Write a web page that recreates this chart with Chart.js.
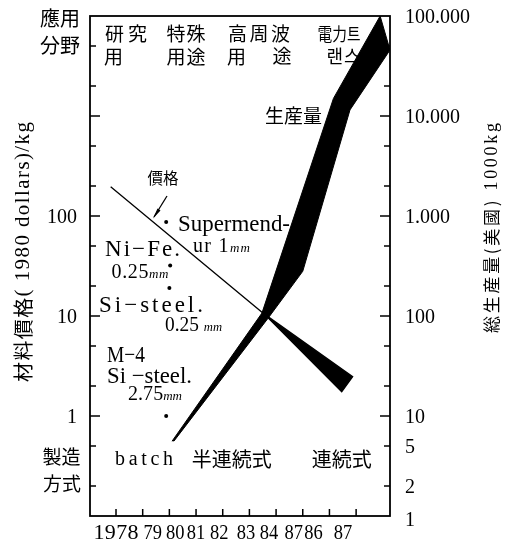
<!DOCTYPE html>
<html>
<head>
<meta charset="utf-8">
<script src="https://cdn.jsdelivr.net/npm/chart.js@4/dist/chart.umd.min.js"></script>
<style>
  html, body { margin: 0; padding: 0; background: #fff; }
  canvas { display: block; }
</style>
</head>
<body>
<canvas id="chart" width="517" height="544"></canvas>
<script>
// Year axis: positions 0..9 carry these labels
const yearLabels = ['1978', '79', '80', '81', '82', '83', '84', '87', '86', '87'];

// Material price, 1980 dollars per kg (left axis) — upper and lower edge of the price band
const priceTopX    = [-0.2, 5.55, 8.87];
const priceTopY    = [196, 10.5, 2.47];
const priceBottomX = [-0.2, 5.55, 8.46];
const priceBottomY = [196, 10.5, 1.75];

// Total production in the US, 1000 kg (right axis) — left and right edge of the band
const prodTopX    = [2.10, 5.47, 8.15, 9.90];
const prodTopY    = [5.6, 107, 15000, 100000];
const prodBottomX = [2.17, 5.70, 7.00, 8.77, 10.27];
const prodBottomY = [5.6, 95, 280, 11500, 45700];

// Individual materials (price per kg)
const materialNames = ['Supermendur 1mm', 'Ni-Fe 0.25mm', 'Si-steel 0.25mm', 'M-4 Si-steel 2.75mm'];
const materialX     = [1.88, 2.03, 2.0, 1.88];
const materialPrice = [87, 32, 19, 1.0];

// Axis tick values
const priceTicks    = [0.2, 0.5, 1, 2, 5, 10, 20, 50, 100, 200, 500, 1000, 2000, 5000];
const priceLabelled = [1, 10, 100];
const prodTicks     = [2, 5, 10, 20, 50, 100, 200, 500, 1000, 2000, 5000, 10000, 20000, 50000];
const prodLabelled  = [1, 2, 5, 10, 100, 1000, 10000, 100000];

// small nudges of the year labels as they are set in a row
const yearLabelShift = [0, 10, 6, 0, -3.5, -3.5, -7, -9, -16, -13];

const SERIF = '"Liberation Serif", "DejaVu Serif", serif';
const CJK = '"Noto Sans CJK JP", "Noto Sans CJK KR", sans-serif';

const toPts = (xs, ys) => xs.map((x, i) => ({ x, y: ys[i] }));
const outline = (tx, ty, bx, by) => toPts(tx, ty).concat(toPts(bx, by).reverse());

// draw runs of text centred on (cx, cy), spaced or squeezed to a given width
function drawRuns(ctx, runs, cx, cy, width, opts = {}) {
  ctx.save();
  ctx.fillStyle = '#000';
  ctx.textAlign = 'left';
  ctx.textBaseline = opts.base || 'middle';
  const glyphs = [];
  runs.forEach(([t, fam, size, italic]) => {
    const font = (italic ? 'italic ' : '') + size + 'px ' + fam;
    ctx.font = font;
    Array.from(t).forEach(ch => glyphs.push({ ch, font, w: ctx.measureText(ch).width }));
  });
  const natural = glyphs.reduce((a, g) => a + g.w, 0);
  const target = width || natural;
  let spacing = 0, sx = 1;
  if (target > natural && glyphs.length > 1) spacing = (target - natural) / (glyphs.length - 1);
  else if (target < natural) sx = target / natural;
  ctx.translate(cx, cy);
  if (opts.rot) ctx.rotate(opts.rot);
  ctx.scale(sx, 1);
  let x = -(natural + spacing * (glyphs.length - 1)) / 2;
  glyphs.forEach(g => {
    ctx.font = g.font;
    ctx.fillText(g.ch, x, 0);
    x += g.w + spacing;
  });
  ctx.restore();
}

// free annotations of the figure
const notes = [
  { r: [['應用', CJK, 20]], x: 60, y: 18, w: 40 },
  { r: [['分野', CJK, 20]], x: 60, y: 45, w: 40 },
  { r: [['研究', CJK, 19]], x: 126, y: 34, w: 42 },
  { r: [['用', CJK, 19]], x: 113.5, y: 56.5 },
  { r: [['特殊', CJK, 19]], x: 186, y: 34, w: 39 },
  { r: [['用途', CJK, 19]], x: 186, y: 56.5, w: 39 },
  { r: [['高周波', CJK, 19]], x: 259, y: 34, w: 62 },
  { r: [['用', CJK, 19]], x: 236.5, y: 56.5 },
  { r: [['途', CJK, 19]], x: 282, y: 56 },
  { r: [['電力트', CJK, 18]], x: 339, y: 34, w: 43 },
  { r: [['랜스', CJK, 18]], x: 343.5, y: 56.5, w: 34 },
  { r: [['生産量', CJK, 19]], x: 293.5, y: 115.5, w: 57 },
  { r: [['價格', CJK, 16]], x: 163, y: 177.5, w: 31 },
  { r: [['Supermend-', SERIF, 23]], x: 234, y: 230.5, w: 112, base: 'alphabetic' },
  { r: [['ur 1', SERIF, 20], ['mm', SERIF, 13, 1]], x: 221.5, y: 252, w: 57, base: 'alphabetic' },
  { r: [['Ni\u2212Fe.', SERIF, 23]], x: 142.5, y: 255.5, w: 75, base: 'alphabetic' },
  { r: [['0.25', SERIF, 20], ['mm', SERIF, 13, 1]], x: 140, y: 278, w: 57, base: 'alphabetic' },
  { r: [['Si\u2212steel.', SERIF, 23]], x: 151, y: 311.5, w: 104, base: 'alphabetic' },
  { r: [['0.25 ', SERIF, 20], ['mm', SERIF, 13, 1]], x: 193.5, y: 331, w: 57, base: 'alphabetic' },
  { r: [['M\u22124', SERIF, 23]], x: 126, y: 361.5, w: 38, base: 'alphabetic' },
  { r: [['Si \u2212steel.', SERIF, 23]], x: 149.5, y: 382.5, w: 85, base: 'alphabetic' },
  { r: [['2.75', SERIF, 20], ['mm', SERIF, 13, 1]], x: 155, y: 400, w: 54, base: 'alphabetic' },
  { r: [['batch', SERIF, 20]], x: 144, y: 465, w: 58, base: 'alphabetic' },
  { r: [['製造', CJK, 19]], x: 61.5, y: 456.5, w: 38 },
  { r: [['方式', CJK, 19]], x: 62, y: 484, w: 38 },
  { r: [['半連続式', CJK, 20]], x: 231.7, y: 459, w: 80 },
  { r: [['連続式', CJK, 20]], x: 341.7, y: 459, w: 60 },
  { r: [['材料價格', CJK, 20], ['( 1980 dollars)/kg', SERIF, 21]], x: 23, y: 252, w: 260, rot: -Math.PI / 2 },
  { r: [['総生産量(美國)', CJK, 17], [' 1000kg', SERIF, 18]], x: 492, y: 228, w: 210, rot: -Math.PI / 2 }
];

const fmtProd = v => v >= 1000 ? v.toLocaleString('de-DE') : String(v);
const isDecade = v => Math.abs(Math.log10(v) - Math.round(Math.log10(v))) < 1e-6;

// frame, inward tick marks, tick labels and annotations
const figurePlugin = {
  id: 'figure',
  afterDatasetsDraw(chart) {
    const { ctx, chartArea: a, scales } = chart;
    const { x: xs, y: ys, y1: rs } = scales;
    ctx.save();
    ctx.strokeStyle = '#000';
    ctx.lineWidth = 1.8;
    ctx.strokeRect(a.left, a.top, a.right - a.left, a.bottom - a.top);

    ctx.lineWidth = 1.5;
    ctx.beginPath();
    ys.ticks.forEach(t => {
      const py = ys.getPixelForValue(t.value);
      const len = isDecade(t.value) && t.value >= 1 ? 10 : 6;
      ctx.moveTo(a.left, py); ctx.lineTo(a.left + len, py);
    });
    rs.ticks.forEach(t => {
      const py = rs.getPixelForValue(t.value);
      const len = isDecade(t.value) ? 10 : 6;
      ctx.moveTo(a.right, py); ctx.lineTo(a.right - len, py);
    });
    xs.ticks.forEach(t => {
      const px = xs.getPixelForValue(t.value);
      ctx.moveTo(px, a.bottom); ctx.lineTo(px, a.bottom - 7);
    });
    ctx.stroke();

    // price pointer
    const tipX = 154, tipY = 217;
    ctx.lineWidth = 1.3;
    ctx.beginPath();
    ctx.moveTo(167, 196); ctx.lineTo(tipX, tipY);
    ctx.stroke();
    ctx.beginPath();
    ctx.moveTo(tipX - 1, tipY + 1.5);
    ctx.lineTo(157.5, 208.5);
    ctx.lineTo(160.5, 210.5);
    ctx.closePath();
    ctx.fillStyle = '#000';
    ctx.fill();
    ctx.restore();

    // tick labels
    priceLabelled.forEach(v => {
      const py = ys.getPixelForValue(v);
      ctx.save();
      ctx.font = '20px ' + SERIF;
      ctx.textAlign = 'right';
      ctx.textBaseline = 'middle';
      ctx.fillStyle = '#000';
      ctx.fillText(String(v), a.left - 13, py + 2);
      ctx.restore();
    });
    prodLabelled.forEach(v => {
      const py = rs.getPixelForValue(v);
      ctx.save();
      ctx.font = '20px ' + SERIF;
      ctx.textAlign = 'left';
      ctx.textBaseline = 'middle';
      ctx.fillStyle = '#000';
      ctx.fillText(fmtProd(v), a.right + 15, py + (v === 1 ? 5 : 2));
      ctx.restore();
    });
    xs.ticks.forEach((t, i) => {
      const px = xs.getPixelForValue(t.value) + yearLabelShift[i];
      const lbl = yearLabels[i];
      drawRuns(ctx, [[lbl, SERIF, 22]], px, 539, lbl.length > 2 ? 45 : 18.5, { base: 'alphabetic' });
    });

    notes.forEach(n => drawRuns(ctx, n.r, n.x, n.y, n.w, { base: n.base, rot: n.rot }));
  }
};

new Chart(document.getElementById('chart'), {
  type: 'line',
  data: {
    datasets: [
      {
        label: '生産量',
        data: outline(prodTopX, prodTopY, prodBottomX, prodBottomY),
        yAxisID: 'y1',
        fill: 'shape',
        backgroundColor: '#000',
        borderColor: '#000',
        borderWidth: 1,
        pointRadius: 0,
        tension: 0,
        clip: 0
      },
      {
        label: '價格',
        data: outline(priceTopX, priceTopY, priceBottomX, priceBottomY),
        yAxisID: 'y',
        fill: 'shape',
        backgroundColor: '#000',
        borderColor: '#000',
        borderWidth: 1.3,
        pointRadius: 0,
        tension: 0,
        clip: 0
      },
      {
        type: 'scatter',
        label: 'materials',
        data: toPts(materialX, materialPrice),
        yAxisID: 'y',
        pointRadius: 2,
        pointBackgroundColor: '#000',
        pointBorderWidth: 0,
        showLine: false
      }
    ]
  },
  options: {
    responsive: false,
    animation: false,
    devicePixelRatio: 1,
    layout: { padding: { top: 16, left: 0, right: 0, bottom: 0 } },
    plugins: { legend: { display: false }, tooltip: { enabled: false } },
    scales: {
      x: {
        type: 'linear',
        min: -0.975,
        max: 10.27,
        grid: { display: false },
        border: { display: false },
        ticks: { display: false },
        afterBuildTicks: s => { s.ticks = yearLabels.map((_, i) => ({ value: i })); },
        afterFit: s => { s.height = 28; }
      },
      y: {
        type: 'logarithmic',
        position: 'left',
        min: 0.1,
        max: 10000,
        grid: { display: false },
        border: { display: false },
        ticks: { display: false },
        afterBuildTicks: s => { s.ticks = priceTicks.map(v => ({ value: v })); },
        afterFit: s => { s.width = 90; }
      },
      y1: {
        type: 'logarithmic',
        position: 'right',
        min: 1,
        max: 100000,
        grid: { display: false },
        border: { display: false },
        ticks: { display: false },
        afterBuildTicks: s => { s.ticks = prodTicks.map(v => ({ value: v })); },
        afterFit: s => { s.width = 127; }
      }
    }
  },
  plugins: [figurePlugin]
});
</script>
</body>
</html>
